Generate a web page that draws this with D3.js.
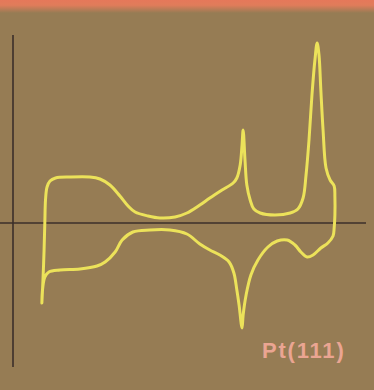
<!DOCTYPE html>
<html>
<head>
<meta charset="utf-8">
<script src="https://cdn.jsdelivr.net/npm/d3@7"></script>
<style>
  html, body { margin: 0; padding: 0; background: #967c54; }
  svg { display: block; }
</style>
</head>
<body>
<div id="chart"></div>
<script>
// potential (mV) and current (arbitrary, ~µA/cm2), anodic sweep then cathodic
var anodicE = [78, 81, 84, 86, 88, 92, 100, 115, 154, 208, 235, 262, 289, 311, 330, 365, 397, 438, 470, 505, 532, 565, 595, 605, 614, 619, 622, 627, 632, 641, 651, 668, 708, 749, 770, 784, 792, 800, 808, 816, 822, 827, 832, 838, 846, 857, 868, 870, 870, 868];
var anodicJ = [-80, -57, -27, 0, 24, 36, 42, 45, 46, 46, 44, 38, 27, 17, 11, 7, 5, 6, 10, 18, 25, 33, 40, 45, 58, 78, 93, 63, 38, 23, 14, 10, 8, 10, 14, 25, 48, 83, 128, 163, 180, 168, 133, 93, 55, 43, 37, 26, 8, -5];
var cathodicE = [865, 851, 832, 811, 795, 778, 762, 741, 714, 689, 662, 643, 630, 622, 619, 611, 605, 597, 584, 559, 532, 505, 470, 424, 370, 324, 295, 276, 249, 227, 181, 127, 97, 86, 80, 78];
var cathodicJ = [-13, -20, -25, -32, -34, -29, -22, -17, -18, -24, -37, -52, -72, -92, -105, -82, -67, -50, -39, -32, -27, -21, -11, -7, -7, -9, -17, -29, -39, -43, -46, -47, -49, -54, -66, -80];
var label = "Pt(111)";

var width = 374, height = 390;

var svg = d3.select("#chart").append("svg")
    .attr("width", width)
    .attr("height", height);

var defs = svg.append("defs");
var grad = defs.append("linearGradient")
    .attr("id", "top")
    .attr("x1", 0).attr("y1", 0).attr("x2", 0).attr("y2", 1);
grad.append("stop").attr("offset", "0%").attr("stop-color", "#e5785a");
grad.append("stop").attr("offset", "40%").attr("stop-color", "#e07c5a");
grad.append("stop").attr("offset", "100%").attr("stop-color", "#967c54");

svg.append("rect")
    .attr("width", width)
    .attr("height", height)
    .attr("fill", "#967c54");

svg.append("rect")
    .attr("width", width)
    .attr("height", 13)
    .attr("fill", "url(#top)");

var x = d3.scaleLinear().domain([0, 950]).range([13, 364.5]);
var y = d3.scaleLinear().domain([-150, 190]).range([373, 33]);

// axes, plain lines without ticks
svg.append("line")
    .attr("x1", x(0)).attr("x2", x(0))
    .attr("y1", y(188)).attr("y2", y(-144))
    .attr("stroke", "#3b2f2a")
    .attr("stroke-width", 1.6);

svg.append("line")
    .attr("x1", 0).attr("x2", 366)
    .attr("y1", y(0)).attr("y2", y(0))
    .attr("stroke", "#3b2f2a")
    .attr("stroke-width", 1.6);

var pts = d3.zip(anodicE, anodicJ).concat(d3.zip(cathodicE, cathodicJ));

var line = d3.line()
    .x(function(d) { return x(d[0]); })
    .y(function(d) { return y(d[1]); })
    .curve(d3.curveCatmullRom.alpha(0.5));

svg.append("path")
    .datum(pts)
    .attr("d", line)
    .attr("fill", "none")
    .attr("stroke", "#ece25a")
    .attr("stroke-width", 3)
    .attr("stroke-linejoin", "round")
    .attr("stroke-linecap", "round");

svg.append("text")
    .attr("x", 262)
    .attr("y", 358)
    .attr("font-family", "Liberation Sans, Arial, sans-serif")
    .attr("font-weight", "bold")
    .attr("font-size", 22)
    .attr("letter-spacing", 1.8)
    .attr("fill", "#eaa592")
    .text(label);
</script>
</body>
</html>
